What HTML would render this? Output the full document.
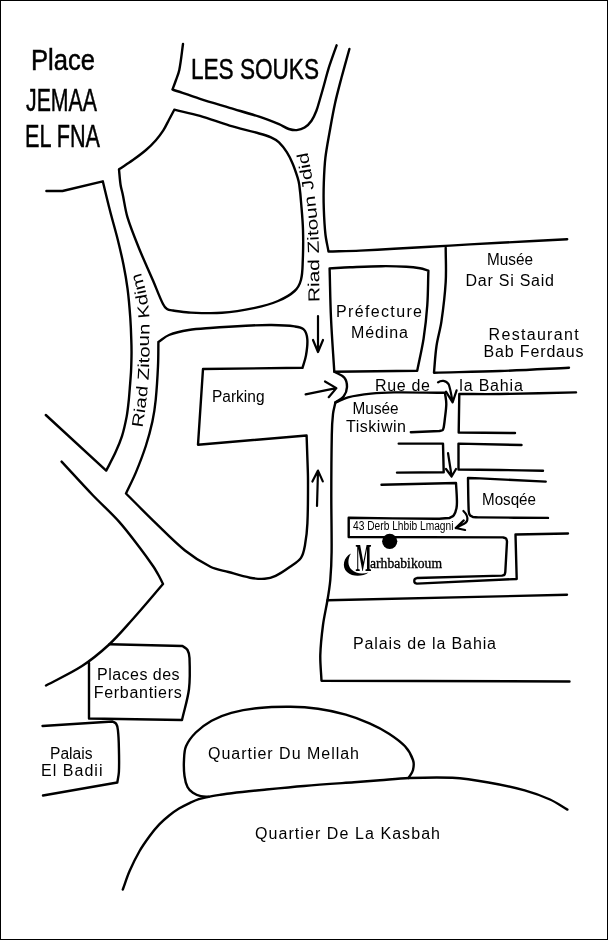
<!DOCTYPE html>
<html lang="fr">
<head>
<meta charset="utf-8">
<title>Plan Marhbabikoum</title>
<style>
html,body{margin:0;padding:0;background:#fff;}
body{width:608px;height:940px;overflow:hidden;}
svg{display:block;will-change:transform;}
.l{fill:none;stroke:#000;stroke-width:2.4;stroke-linecap:round;stroke-linejoin:round;}
.a{fill:none;stroke:#000;stroke-width:2.2;stroke-linecap:round;stroke-linejoin:round;}
text{font-family:"Liberation Sans",sans-serif;fill:#000;}
.t{font-size:16px;}
.big{font-size:30px;stroke:#000;stroke-width:0.5px;}
.sf{font-family:"Liberation Serif",serif;}
</style>
</head>
<body>
<svg width="608" height="940" viewBox="0 0 608 940">
<rect x="0" y="0" width="608" height="940" fill="#fff"/>
<rect x="0.5" y="0.5" width="607" height="939" fill="none" stroke="#000" stroke-width="1"/>
<!-- streets and blocks -->
<path class="l" d="M183.0,44.0 C181.8,52.7 181.0,61.4 179.3,70.0 C178.6,73.4 177.2,76.7 176.0,80.0 C174.9,83.2 173.7,86.3 172.5,89.5 C181.7,92.6 190.8,95.8 200.0,98.8 C209.8,101.9 219.7,104.8 229.6,107.8 C239.5,110.8 249.4,113.5 259.2,116.7 C265.9,118.9 272.5,121.5 279.0,124.2 C282.4,125.6 285.3,127.8 288.8,129.0 C291.3,129.8 294.1,130.3 296.7,130.1 C299.5,129.9 302.3,129.1 304.6,127.6 C307.3,125.9 309.6,123.4 311.5,120.7 C313.6,117.7 315.1,114.2 316.4,110.8 C317.9,107.0 318.8,102.9 320.0,99.0 C321.4,94.3 322.7,89.7 324.0,85.0 C325.6,79.4 326.9,73.8 328.6,68.3 C331.1,60.6 333.9,53.0 336.6,45.3"/>
<path class="l" d="M174.3,109.7 C172.5,113.0 170.8,116.4 169.0,119.7 C167.1,123.3 165.5,127.0 163.3,130.4 C161.1,133.8 158.6,137.1 155.9,140.2 C152.8,143.7 149.5,147.0 146.0,150.0 C141.8,153.6 137.4,156.8 132.9,160.0 C128.4,163.2 123.6,166.2 119.0,169.3 C119.5,174.5 119.8,179.8 120.6,185.0 C121.0,187.9 122.0,190.8 122.6,193.7 C124.3,201.6 125.2,209.7 127.5,217.4 C130.8,228.2 135.1,238.6 139.3,249.0 C143.6,259.6 148.5,270.0 153.0,280.5 C156.4,288.3 159.2,296.4 163.0,304.0 C163.9,305.9 165.2,307.8 167.0,309.0 C168.7,310.1 171.0,310.2 173.0,310.5 C178.2,311.3 183.4,312.3 188.7,312.5 C199.8,313.0 210.9,313.6 222.0,312.8 C233.1,312.0 244.1,310.1 255.0,307.8 C262.8,306.2 270.6,304.1 278.0,301.0 C283.9,298.5 289.9,295.4 294.6,291.0 C297.8,288.1 299.9,283.9 301.0,279.7 C302.7,273.3 302.5,266.6 302.8,260.0 C303.2,250.0 303.3,240.0 303.0,230.0 C302.8,221.7 302.0,213.3 301.3,205.0 C300.8,198.3 300.2,191.6 299.3,185.0 C299.0,182.6 298.4,180.2 297.7,177.9 C296.2,173.2 294.7,168.5 292.8,164.0 C291.1,159.9 289.2,155.9 286.8,152.2 C284.6,148.7 282.0,145.3 279.0,142.4 C276.7,140.3 273.9,138.7 271.0,137.4 C267.2,135.7 263.2,134.6 259.2,133.5 C249.4,130.7 239.4,128.5 229.6,125.6 C219.6,122.6 210.0,118.8 200.0,115.9 C191.5,113.5 182.9,111.8 174.3,109.7"/>
<path class="l" d="M46.4,191.0 L62.5,191.0 L102.8,181.3 C105.1,190.7 107.3,200.1 109.7,209.5 C112.2,219.4 115.1,229.1 117.6,239.0 C119.7,247.5 121.8,256.1 123.5,264.7 C125.1,272.6 126.5,280.5 127.5,288.4 C128.8,298.2 129.6,308.1 130.3,318.0 C130.8,325.3 131.1,332.7 131.3,340.0 C131.5,345.3 131.6,350.7 131.5,356.0 C131.4,361.3 131.3,366.7 131.0,372.0 C130.7,377.3 130.2,382.7 129.8,388.0 C129.5,392.0 129.2,396.0 128.8,400.0 C128.2,405.5 127.7,411.0 126.7,416.4 C125.4,423.1 124.0,429.7 122.0,436.2 C120.2,441.8 117.9,447.2 115.4,452.6 C112.6,458.7 109.3,464.6 106.2,470.6 L45.8,415.0"/>
<path class="l" d="M61.6,461.6 C71.9,472.7 82.1,484.0 92.6,495.0 C101.2,504.0 110.7,512.3 119.0,521.6 C126.5,530.0 133.2,539.1 140.0,548.0 C144.5,553.9 148.8,559.9 153.0,566.0 C155.2,569.2 157.1,572.6 159.0,576.0 C160.4,578.6 161.7,581.3 163.0,584.0 C152.7,596.0 142.5,608.2 132.0,620.0 C124.4,628.5 117.0,637.3 108.6,645.0 C100.3,652.6 91.5,659.9 82.0,666.0 C70.5,673.4 58.0,679.0 46.0,685.5"/>
<path class="l" d="M158.4,342.0 C161.9,339.7 165.1,336.6 169.0,335.0 C175.3,332.5 182.0,331.1 188.7,330.0 C195.7,328.8 202.9,328.5 210.0,328.0 C221.9,327.1 233.9,326.3 245.8,325.7 C254.4,325.3 263.0,324.9 271.6,325.0 C279.3,325.1 287.0,325.3 294.6,326.4 C297.8,326.8 301.5,327.2 303.8,329.5 C306.2,331.9 307.0,335.6 307.3,339.0 C307.8,344.5 306.9,350.0 306.0,355.4 C305.3,359.6 303.7,363.7 302.5,367.8 L203.0,369.0 L198.0,444.7 L306.6,435.5 C306.9,445.2 307.3,454.8 307.6,464.5 C307.8,469.7 308.0,474.8 308.0,480.0 C308.0,494.5 308.1,508.9 307.4,523.4 C307.1,530.6 306.3,537.9 305.0,545.0 C304.2,549.4 303.5,554.1 301.0,557.8 C298.3,561.7 293.9,564.1 290.0,566.8 C285.4,570.1 280.7,573.5 275.6,575.9 C272.2,577.5 268.5,578.5 264.7,578.8 C259.8,579.1 254.8,578.6 250.0,577.7 C242.7,576.3 235.6,574.0 228.5,572.0 C222.4,570.3 216.0,569.6 210.4,566.8 C201.4,562.3 192.9,556.8 185.0,550.5 C174.7,542.2 165.5,532.6 156.0,523.4 C145.8,513.6 136.0,503.5 126.0,493.5 C129.3,486.5 132.9,479.6 135.9,472.4 C139.5,463.7 142.9,454.9 145.8,446.0 C148.4,437.9 150.6,429.7 152.4,421.4 C153.9,414.3 155.0,407.2 155.7,400.0 C156.8,388.7 157.5,377.3 158.0,366.0 C158.4,358.0 158.3,350.0 158.4,342.0"/>
<path class="l" d="M349.4,49.0 C346.7,58.7 344.0,68.3 341.4,78.0 C339.2,86.4 336.9,94.9 335.0,103.4 C332.9,112.9 331.3,122.4 329.6,132.0 C328.1,140.5 326.4,149.1 325.4,157.7 C324.4,166.1 324.1,174.6 323.8,183.0 C323.5,191.6 323.5,200.1 323.8,208.7 C324.1,217.1 324.5,225.6 325.4,234.0 C326.0,239.9 327.5,245.7 328.5,251.5 C339.0,251.2 349.5,251.0 360.0,250.6 C371.3,250.1 382.7,249.4 394.0,248.8 C406.0,248.1 418.0,247.5 430.0,246.8 C443.3,246.0 456.7,245.2 470.0,244.4 C480.0,243.8 490.0,243.3 500.0,242.8 C522.4,241.6 544.8,240.5 567.2,239.3"/>
<path class="l" d="M329.6,268.4 C336.4,268.0 343.2,267.5 350.0,267.2 C360.6,266.8 371.1,266.3 381.7,266.2 C389.9,266.1 398.2,266.3 406.4,266.8 C411.0,267.0 415.5,267.5 420.0,268.3 C422.9,268.8 425.6,269.8 428.4,270.6 C428.0,282.1 428.1,293.6 427.3,305.0 C426.5,316.2 425.3,327.5 423.6,338.6 C421.9,349.4 419.3,360.1 417.2,370.8 L334.3,371.8 C333.2,353.9 331.8,335.9 331.0,318.0 C330.2,301.5 330.1,284.9 329.6,268.4"/>
<path class="l" d="M334.3,371.8 C337.6,373.7 341.8,374.6 344.2,377.5 C346.3,380.0 347.1,383.7 347.0,387.0 C346.9,390.4 345.6,393.8 343.6,396.5 C341.6,399.2 338.1,400.5 335.4,402.5"/>
<path class="l" d="M335.4,402.5 C339.6,400.8 343.6,398.4 348.0,397.3 C355.5,395.4 363.3,394.4 371.0,393.6 C378.6,392.8 386.3,392.5 394.0,392.4 C411.0,392.2 428.0,392.7 445.0,392.8 C445.4,396.5 446.4,400.2 446.3,404.0 C446.2,409.7 445.2,415.3 444.6,421.0 C444.4,423.2 444.0,425.3 443.7,427.5 C443.3,428.4 443.3,429.6 442.6,430.2 C441.8,430.9 440.5,430.7 439.5,431.0 L410.8,432.3"/>
<path class="l" d="M335.4,402.5 C334.6,406.3 333.4,410.1 333.0,414.0 C332.2,421.0 331.9,428.0 331.8,435.0 C331.4,455.7 331.3,476.3 331.3,497.0 C331.3,515.3 331.8,533.7 331.6,552.0 C331.5,561.3 331.1,570.7 330.3,580.0 C329.7,586.7 328.6,593.4 327.5,600.0 C326.1,608.4 324.1,616.6 323.0,625.0 C321.7,635.0 320.6,645.0 320.3,655.0 C320.1,663.6 321.1,672.1 321.5,680.7 L569.5,681.5"/>
<path class="l" d="M445.7,247.7 C445.7,259.1 446.4,270.6 445.7,282.0 C444.9,295.3 443.3,308.5 441.4,321.7 C440.2,329.9 437.7,337.8 436.5,346.0 C435.2,354.8 434.8,363.8 434.0,372.7 C456.0,372.1 478.0,371.8 500.0,371.0 C523.0,370.2 546.0,368.9 569.0,367.8"/>
<path class="l" d="M576.0,392.4 C550.7,392.9 525.3,393.7 500.0,394.0 C486.4,394.2 472.9,394.0 459.3,394.0 L458.7,432.5 L515.0,433.0"/>
<path class="l" d="M398.7,443.6 L443.0,443.6 L443.7,472.3 L397.0,472.6"/>
<path class="l" d="M521.5,445.0 L458.5,443.6 L458.5,469.5 C472.3,469.7 486.2,469.8 500.0,470.0 C514.3,470.2 528.7,470.5 543.0,470.8"/>
<path class="l" d="M381.5,484.8 L456.0,483.0 C456.3,488.7 456.8,494.3 456.9,500.0 C457.0,502.7 457.0,505.4 456.5,508.0 C456.0,510.5 455.3,513.2 453.8,515.3 C452.8,516.7 450.9,517.1 449.5,518.0 C444.7,518.3 439.8,518.8 435.0,518.8 C406.2,518.7 377.5,518.1 348.7,517.7 L348.7,537.0 L503.0,537.4 C504.0,537.8 505.3,537.7 506.0,538.5 C506.7,539.3 506.7,540.5 507.0,541.5 L505.3,572.0 C505.0,572.9 505.1,573.9 504.5,574.6 C503.9,575.3 502.8,575.3 502.0,575.6 L417.0,578.0 C416.2,578.4 415.3,578.6 414.7,579.2 C414.3,579.7 414.3,580.4 414.3,581.0 C414.3,581.6 414.4,582.4 414.9,582.8 C415.4,583.3 416.3,583.3 417.0,583.6 L516.7,579.0 L515.5,534.5 L568.0,533.5"/>
<path class="l" d="M545.7,481.6 C523.8,480.5 501.9,479.4 480.0,478.4 C476.0,478.2 472.0,478.1 468.0,478.0 C468.2,489.0 468.2,500.0 468.7,511.0 C468.8,512.4 469.0,513.9 469.8,515.0 C470.5,516.0 471.9,516.3 473.0,517.0 C475.3,517.1 477.7,517.4 480.0,517.4 C502.7,517.7 525.3,517.7 548.0,517.9"/>
<path class="l" d="M327.5,600.3 L567.0,594.8"/>
<path class="l" d="M109.5,644.2 L182.5,646.0 C184.2,647.3 186.4,648.2 187.5,650.0 C188.9,652.4 189.4,655.3 189.5,658.0 C189.9,668.3 190.2,678.7 189.0,689.0 C187.7,699.5 184.3,709.7 182.0,720.0 L89.0,718.5 L89.0,663.0"/>
<path class="l" d="M42.5,726.0 L112.5,721.5 C113.8,722.3 115.5,722.7 116.3,724.0 C117.4,725.7 117.7,727.9 117.9,730.0 C118.6,736.1 118.8,742.3 118.9,748.4 C119.1,756.3 119.3,764.1 118.9,772.0 C118.7,775.5 117.8,779.0 117.3,782.5 L43.0,795.5"/>
<path class="l" d="M208.7,796.8 C206.1,796.6 203.4,796.8 200.8,796.2 C198.0,795.5 195.3,794.4 192.9,792.8 C190.7,791.3 188.7,789.4 187.5,787.0 C185.8,783.6 185.0,779.8 184.5,776.0 C183.8,770.7 183.7,765.3 184.0,760.0 C184.2,755.4 184.2,750.5 186.0,746.3 C188.2,741.1 191.8,736.5 195.8,732.5 C200.4,727.9 205.9,723.9 211.6,720.7 C217.8,717.3 224.5,714.6 231.3,712.8 C240.4,710.4 249.7,708.9 259.0,708.0 C269.5,706.9 280.0,706.7 290.5,706.8 C299.7,706.9 308.9,707.5 318.0,708.8 C327.4,710.1 336.7,712.1 345.8,714.7 C353.9,717.0 361.8,720.0 369.5,723.4 C376.2,726.4 382.8,729.7 389.0,733.7 C394.7,737.4 400.4,741.3 405.0,746.3 C408.6,750.2 411.3,755.0 413.0,760.0 C414.1,763.2 413.8,766.8 413.0,770.0 C412.3,773.0 410.0,775.3 408.5,778.0"/>
<path class="l" d="M122.8,889.5 C125.1,883.3 127.0,876.9 129.7,870.8 C132.7,864.0 135.9,857.4 139.6,851.0 C142.5,845.8 146.0,841.0 149.5,836.2 C152.5,832.1 155.8,828.1 159.3,824.4 C162.4,821.2 165.7,818.3 169.2,815.5 C172.3,813.0 175.6,810.7 179.0,808.6 C182.2,806.6 185.6,804.9 189.0,803.3 C192.2,801.8 195.4,800.2 198.8,799.1 C202.0,798.0 205.4,797.5 208.7,796.8 C212.6,796.0 216.6,795.4 220.5,794.8 C224.2,794.2 227.9,793.6 231.6,793.2 C242.6,791.9 253.5,790.8 264.5,789.7 C277.7,788.4 290.8,787.1 304.0,786.0 C320.7,784.6 337.3,783.5 354.0,782.3 C362.7,781.6 371.3,781.0 380.0,780.3 C389.7,779.5 399.3,778.3 409.0,778.0 C423.5,777.5 438.0,777.0 452.4,777.8 C464.5,778.5 476.5,780.4 488.5,782.5 C500.7,784.6 512.8,787.1 524.7,790.4 C533.3,792.8 541.8,795.8 550.0,799.5 C556.1,802.3 561.6,806.2 567.4,809.6"/>
<!-- arrows -->
<path class="a" d="M318,316 L318,351 M313,340 L318,352 L323,340"/>
<path class="a" d="M305.6,394.4 L336.2,388.1 M325,381.5 L336.4,388.1 L328.7,397.2"/>
<path class="a" d="M317,506 L318,471 M312.4,481.6 L318,470.6 L322.8,481.4"/>
<path class="a" d="M438,382.4 C441,380 446,380 448.7,384.3 C450.5,389 451.5,396 452.6,402 M446,391.6 L452.6,402.4 L456.6,390.3"/>
<path class="a" d="M448,453 L451.6,476 M446,469 L451.6,476.5 L456,469"/>
<path class="a" d="M463.4,511 C466,513.5 467.8,517 467.3,520 C466.8,523 464,524 461,525.3 L455.7,528 M463.8,520.4 L455.7,528 L465.1,530"/>
<circle cx="389.7" cy="541.3" r="7.6" fill="#000"/>
<!-- labels -->
<text class="big" x="31" y="70" textLength="64" lengthAdjust="spacingAndGlyphs">Place</text>
<text class="big" x="26" y="110.5" textLength="71" lengthAdjust="spacingAndGlyphs" style="font-size:32px">JEMAA</text>
<text class="big" x="25" y="146.5" textLength="75" lengthAdjust="spacingAndGlyphs" style="font-size:31px">EL FNA</text>
<text class="big" x="191" y="79" textLength="128" lengthAdjust="spacingAndGlyphs">LES SOUKS</text>
<text class="t" x="336" y="317" textLength="86" lengthAdjust="spacing">Préfecture</text>
<text class="t" x="351" y="337.5" textLength="57" lengthAdjust="spacing">Médina</text>
<text class="t" x="487" y="264.8" textLength="46" lengthAdjust="spacingAndGlyphs">Musée</text>
<text class="t" x="465.5" y="286" textLength="88.5" lengthAdjust="spacing">Dar Si Said</text>
<text class="t" x="488.6" y="340" textLength="90" lengthAdjust="spacing">Restaurant</text>
<text class="t" x="483.6" y="357" textLength="100" lengthAdjust="spacing">Bab Ferdaus</text>
<text class="t" x="375" y="391" textLength="55" lengthAdjust="spacing">Rue de</text>
<text class="t" x="459.3" y="391" textLength="63.5" lengthAdjust="spacing">la Bahia</text>
<text class="t" x="352.6" y="414.2" textLength="46" lengthAdjust="spacingAndGlyphs">Musée</text>
<text class="t" x="346" y="432" textLength="60" lengthAdjust="spacing">Tiskiwin</text>
<text class="t" x="212" y="402" textLength="52.5" lengthAdjust="spacingAndGlyphs">Parking</text>
<text class="t" x="482" y="504.5" textLength="54" lengthAdjust="spacingAndGlyphs">Mosqée</text>
<text class="t" x="353" y="648.6" textLength="143" lengthAdjust="spacing">Palais de la Bahia</text>
<text class="t" x="97" y="680" textLength="82.6" lengthAdjust="spacing">Places des</text>
<text class="t" x="93.75" y="697.6" textLength="88" lengthAdjust="spacing">Ferbantiers</text>
<text class="t" x="50" y="759" textLength="42.5" lengthAdjust="spacingAndGlyphs">Palais</text>
<text class="t" x="41" y="776" textLength="61.5" lengthAdjust="spacing">El Badii</text>
<text class="t" x="208" y="759" textLength="151" lengthAdjust="spacing">Quartier Du Mellah</text>
<text class="t" x="255" y="838.5" textLength="185" lengthAdjust="spacing">Quartier De La Kasbah</text>
<text x="353" y="530" font-size="12.5" textLength="100.5" lengthAdjust="spacingAndGlyphs">43 Derb Lhbib Lmagni</text>
<path d="M351,553.5 C343.5,557 341.5,567 347,572 C353,577.5 363,576.5 368.5,572.5 C362,574.5 355.5,573.5 351.5,569.5 C347.5,565.5 347.5,559 351,553.5 Z" fill="#000"/>
<text class="sf"><tspan x="355.5" y="571" font-size="40" font-weight="bold" textLength="16" lengthAdjust="spacingAndGlyphs">M</tspan><tspan x="370" y="568.3" font-size="15" stroke="#000" stroke-width="0.35" textLength="72" lengthAdjust="spacingAndGlyphs">arhbabikoum</tspan></text>
<path id="kdim" d="M142.5,428 C143.8,418.7 145.4,409.4 146.5,400.0 C147.6,390.0 148.5,380.0 149.0,370.0 C149.5,360.0 149.5,350.0 149.5,340.0 C149.5,330.7 149.7,321.3 149.0,312.0 C148.4,304.6 147.1,297.2 145.5,290.0 C143.6,281.6 140.8,273.3 138.5,265.0" fill="none"/>
<text class="t"><textPath href="#kdim" textLength="157" lengthAdjust="spacingAndGlyphs">Riad Zitoun Kdim</textPath></text>
<path id="jdid" d="M319.5,302 L319,250 Q317.5,200 307,150" fill="none"/>
<text class="t"><textPath href="#jdid" textLength="151" lengthAdjust="spacingAndGlyphs">Riad Zitoun Jdid</textPath></text>
</svg>
</body>
</html>
